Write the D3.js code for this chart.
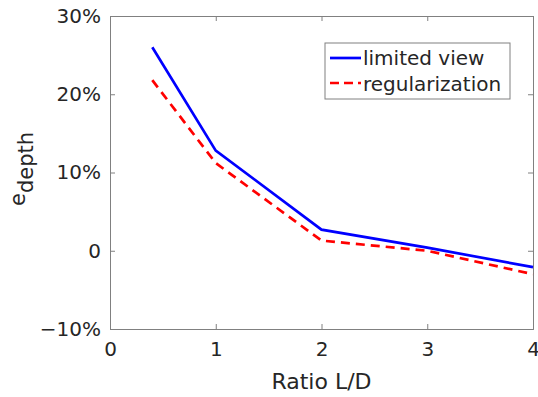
<!DOCTYPE html>
<html>
<head>
<meta charset="utf-8">
<script src="https://cdn.jsdelivr.net/npm/d3@7"></script>
<style>
  body { margin: 0; background: white; }
  text { font-family: "DejaVu Sans", sans-serif; fill: #262626; }
</style>
</head>
<body>
<div id="container"></div>
<script>
let w = 538;
let h = 397;

// DATA
let ratio = [0.4, 1, 2, 3, 4];
let limitedView = [26.0, 12.8, 2.7, 0.4, -2.1];
let regularization = [21.8, 11.2, 1.3, 0.0, -3.0];
let xTicks = [0, 1, 2, 3, 4];
let yTicks = [-10, 0, 10, 20, 30];
let yTickLabels = ["\u221210%", "0", "10%", "20%", "30%"];

let padLeft = 110, padRight = 533, padTop = 16, padBottom = 329;

let viz = d3.select("#container").append("svg")
  .attr("width", w)
  .attr("height", h)
  .style("background-color", "white");

let xScale = d3.scaleLinear().domain([0, 4]).range([padLeft, padRight]);
let yScale = d3.scaleLinear().domain([-10, 30]).range([padBottom, padTop]);

// box with ticks on all sides
let axisColor = "#808080";
let bottomAxis = viz.append("g")
  .attr("transform", "translate(0," + padBottom + ")")
  .call(d3.axisBottom(xScale).tickValues(xTicks).tickSize(-5).tickPadding(13).tickFormat(d3.format("d")));
let topAxis = viz.append("g")
  .attr("transform", "translate(0," + padTop + ")")
  .call(d3.axisTop(xScale).tickValues(xTicks).tickSize(-5).tickFormat(""));
let leftAxis = viz.append("g")
  .attr("transform", "translate(" + padLeft + ",0)")
  .call(d3.axisLeft(yScale).tickValues(yTicks).tickSize(-5).tickPadding(9).tickFormat((d, i) => yTickLabels[i]));
let rightAxis = viz.append("g")
  .attr("transform", "translate(" + padRight + ",0)")
  .call(d3.axisRight(yScale).tickValues(yTicks).tickSize(-5).tickFormat(""));

[bottomAxis, topAxis, leftAxis, rightAxis].forEach(a => {
  a.select(".domain").attr("stroke", axisColor).attr("stroke-width", 1);
  a.selectAll(".tick line").attr("stroke", axisColor);
  a.selectAll(".tick text").style("font-size", "20px").attr("fill", "#262626")
    .style("font-family", "DejaVu Sans, sans-serif");
});

// lines
let lineMaker = d3.line()
  .x((d, i) => xScale(ratio[i]))
  .y(d => yScale(d));

viz.append("path")
  .datum(regularization)
  .attr("d", lineMaker)
  .attr("fill", "none")
  .attr("stroke", "#ff0000")
  .attr("stroke-width", 2.7)
  .attr("stroke-dasharray", "9,6");

viz.append("path")
  .datum(limitedView)
  .attr("d", lineMaker)
  .attr("fill", "none")
  .attr("stroke", "#0000ff")
  .attr("stroke-width", 2.7);

// legend
let legend = viz.append("g").attr("transform", "translate(325,43)");
legend.append("rect")
  .attr("width", 185).attr("height", 56)
  .attr("fill", "white").attr("stroke", "#808080");
legend.append("line")
  .attr("x1", 5).attr("x2", 36).attr("y1", 15).attr("y2", 15)
  .attr("stroke", "#0000ff").attr("stroke-width", 2.7);
legend.append("line")
  .attr("x1", 5).attr("x2", 36).attr("y1", 40).attr("y2", 40)
  .attr("stroke", "#ff0000").attr("stroke-width", 2.7)
  .attr("stroke-dasharray", "9,5");
legend.append("text").attr("x", 38).attr("y", 22).style("font-size", "20px").text("limited view");
legend.append("text").attr("x", 38).attr("y", 48).style("font-size", "20px").text("regularization");

// axis labels
viz.append("text")
  .attr("x", (padLeft + padRight) / 2)
  .attr("y", 389)
  .attr("text-anchor", "middle")
  .style("font-size", "22px")
  .text("Ratio L/D");

let yLabel = viz.append("text")
  .attr("transform", "translate(25,169) rotate(-90)")
  .attr("text-anchor", "middle")
  .style("font-size", "21px");
yLabel.append("tspan").text("e");
yLabel.append("tspan").attr("dy", 8).text("depth");
</script>
</body>
</html>
